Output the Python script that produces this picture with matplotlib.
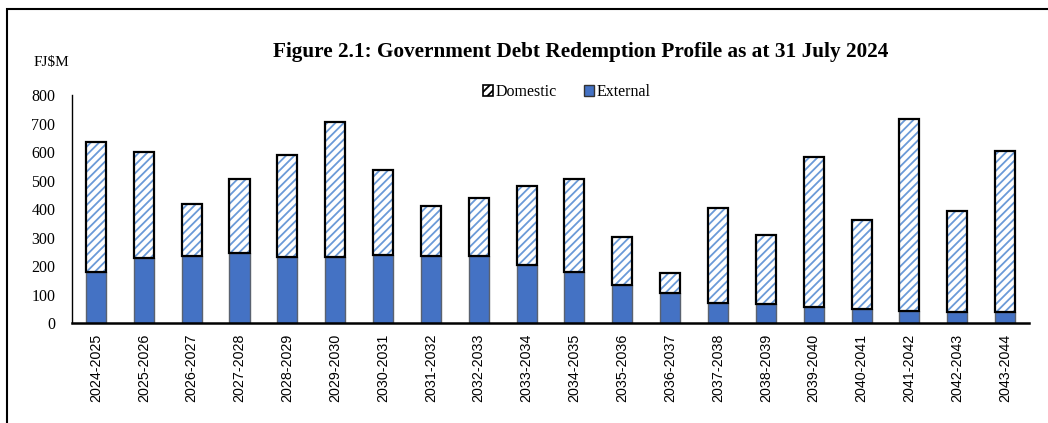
import numpy as np
import matplotlib.pyplot as plt
from matplotlib.patches import Patch, Rectangle

## Data (FJ$ million)
years = ["2024-2025", "2025-2026", "2026-2027", "2027-2028", "2028-2029",
         "2029-2030", "2030-2031", "2031-2032", "2032-2033", "2033-2034",
         "2034-2035", "2035-2036", "2036-2037", "2037-2038", "2038-2039",
         "2039-2040", "2040-2041", "2041-2042", "2042-2043", "2043-2044"]
external = [181, 230, 237, 245, 233, 232, 239, 236, 236, 204,
            181, 134, 107, 70, 67, 58, 51, 43, 40, 40]
total = [636, 601, 418, 507, 589, 705, 537, 412, 440, 482,
         507, 302, 177, 404, 309, 583, 362, 717, 395, 605]
domestic = [t - e for t, e in zip(total, external)]

ext_color = "#4472C4"
hatch_color = "#6a9ad8"
serif = ["Liberation Serif", "DejaVu Serif"]

plt.rcParams['hatch.linewidth'] = 1.3
plt.rcParams['hatch.color'] = hatch_color

fig = plt.figure(figsize=(10.48, 4.23), dpi=100)
ax = fig.add_axes([0.0687, 0.2357, 0.9132, 0.5397])

x = np.arange(len(years))
width = 0.42

# External part
ax.bar(x, external, width, color=ext_color, edgecolor="#5a6270", linewidth=1.0, zorder=2)
# Domestic part: hatched fill, then black outline on top
ax.bar(x, domestic, width, bottom=external, color="white", edgecolor=hatch_color,
       hatch="////", linewidth=0, zorder=2)
ax.bar(x, domestic, width, bottom=external, fill=False, edgecolor="black",
       linewidth=1.6, zorder=3)

ax.set_xlim(-0.5, len(years) - 0.5)
ax.set_ylim(0, 800)
ax.set_yticks(np.arange(0, 801, 100))
ax.set_xticks(x)
ax.set_xticklabels(years, rotation=90, fontsize=10.3, family=["Liberation Sans", "DejaVu Sans"])
for lab in ax.get_yticklabels():
    lab.set_family(serif)
    lab.set_fontsize(11.5)
ax.tick_params(axis="both", length=0)
ax.tick_params(axis="y", pad=12)
ax.tick_params(axis="x", pad=7.5)
for s in ["top", "right"]:
    ax.spines[s].set_visible(False)
ax.spines["left"].set_linewidth(1.0)
ax.spines["bottom"].set_linewidth(1.8)

# Legend
handles = [Patch(facecolor="white", edgecolor="black", hatch="////", linewidth=1.2, label="Domestic"),
           Patch(facecolor=ext_color, edgecolor="#333333", linewidth=1.0, label="External")]
ax.legend(handles=handles, loc="center", bbox_to_anchor=(0.517, 1.013), ncol=2,
          frameon=False, prop={"family": serif, "size": 11.5}, handlelength=0.62,
          handleheight=0.62, handletextpad=0.15, columnspacing=1.7,
          borderpad=0, borderaxespad=0)

# Titles
fig.text(0.554, 0.877, "Figure 2.1: Government Debt Redemption Profile as at 31 July 2024",
         ha="center", va="center", fontsize=15.3, fontweight="bold", family=serif)
fig.text(0.032, 0.852, "FJ$M", ha="left", va="center", fontsize=11, family=serif)

# Outer frame (only left and top edges fall inside the image)
fig.patches.append(Rectangle((7 / 1048, -0.5), 2.0, 1 - 9.5 / 423 + 0.5,
                             transform=fig.transFigure, fill=False,
                             edgecolor="black", linewidth=1.5))

fig.savefig("out.png", dpi=100)
